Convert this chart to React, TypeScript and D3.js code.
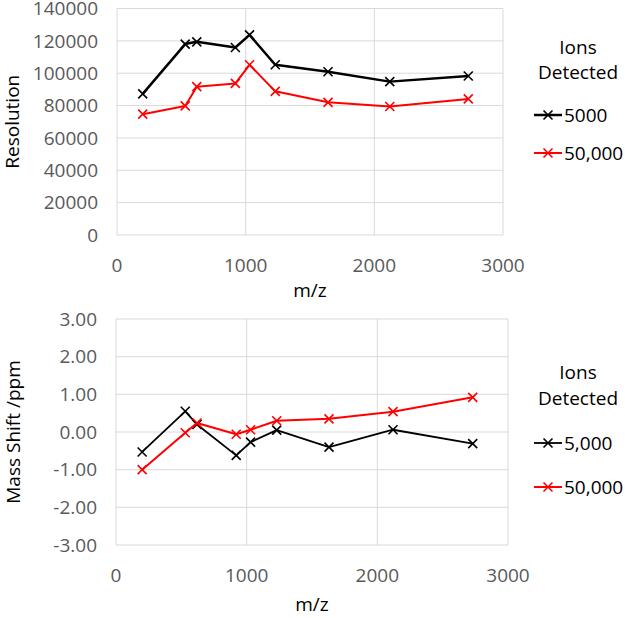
import React from "react";
import * as d3 from "d3";

const mzTop = [200, 530, 620, 920, 1030, 1230, 1640, 2120, 2730];
const res5000 = [87200, 118000, 119400, 115900, 123700, 105200, 100900, 94800, 98300];
const res50000 = [74700, 79800, 91700, 93700, 105200, 88800, 82000, 79400, 84100];

const mzBottom = [200, 530, 620, 920, 1030, 1230, 1630, 2120, 2730];
const shift5000 = [-0.53, 0.55, 0.2, -0.62, -0.27, 0.05, -0.4, 0.06, -0.31];
const shift50000 = [-1.0, -0.02, 0.24, -0.06, 0.06, 0.3, 0.35, 0.54, 0.92];

const xTicks = [0, 1000, 2000, 3000];
const resTicks = [0, 20000, 40000, 60000, 80000, 100000, 120000, 140000];
const shiftTicks = [-3, -2, -1, 0, 1, 2, 3];

const topLegend = ["5000", "50,000"];
const bottomLegend = ["5,000", "50,000"];
const colors = ["#000000", "#ff0000"];

const FONT = "'Open Sans', 'Liberation Sans', sans-serif";
const TICK_COLOR = "#595959";
const GRID = "#d9d9d9";
const FS = 19;

type PanelProps = {
  x: number[];
  series: number[][];
  yTicks: number[];
  yDomain: [number, number];
  yFmt: (v: number) => string;
  left: number;
  right: number;
  top: number;
  bottom: number;
  yTitle: string;
  yTitleX: number;
  xTitleY: number;
  xLabelY: number;
  legend: string[];
  legendY: number[];
  widths: number[];
};

function Cross({ cx, cy, color }: { cx: number; cy: number; color: string }) {
  const s = 4.5;
  return (
    <path
      d={`M${cx - s},${cy - s}L${cx + s},${cy + s}M${cx - s},${cy + s}L${cx + s},${cy - s}`}
      stroke={color}
      strokeWidth={1.6}
      fill="none"
    />
  );
}

function Panel(p: PanelProps) {
  const xs = d3.scaleLinear().domain([0, 3000]).range([p.left, p.right]);
  const ys = d3.scaleLinear().domain(p.yDomain).range([p.bottom, p.top]);
  const line = d3
    .line<[number, number]>()
    .x((d) => xs(d[0]))
    .y((d) => ys(d[1]));
  const midY = (p.top + p.bottom) / 2;
  return (
    <g fontFamily={FONT}>
      {p.yTicks.map((t) => (
        <line key={"gy" + t} x1={p.left} x2={p.right} y1={ys(t)} y2={ys(t)} stroke={GRID} strokeWidth={1} />
      ))}
      {xTicks.map((t) => (
        <line key={"gx" + t} x1={xs(t)} x2={xs(t)} y1={p.top} y2={p.bottom} stroke={GRID} strokeWidth={1} />
      ))}
      {p.yTicks.map((t) => (
        <text key={"ty" + t} x={p.left - 19} y={ys(t)} dy="0.35em" textAnchor="end" fontSize={FS} fill={TICK_COLOR}>
          {p.yFmt(t)}
        </text>
      ))}
      {xTicks.map((t) => (
        <text key={"tx" + t} x={xs(t)} y={p.xLabelY} dy="0.35em" textAnchor="middle" fontSize={FS} fill={TICK_COLOR}>
          {t}
        </text>
      ))}
      <text
        transform={`translate(${p.yTitleX},${midY}) rotate(-90)`}
        textAnchor="middle"
        dy="0.35em"
        fontSize={FS}
        fill="#000"
      >
        {p.yTitle}
      </text>
      <text x={(p.left + p.right) / 2} y={p.xTitleY} dy="0.35em" textAnchor="middle" fontSize={FS} fill="#000">
        m/z
      </text>
      {p.series.map((s, i) => {
        const pts = p.x.map((xv, j) => [xv, s[j]] as [number, number]);
        return (
          <g key={"s" + i}>
            <path d={line(pts) || ""} stroke={colors[i]} strokeWidth={p.widths[i]} fill="none" strokeLinejoin="round" />
            {pts.map((d, j) => (
              <Cross key={j} cx={xs(d[0])} cy={ys(d[1])} color={colors[i]} />
            ))}
          </g>
        );
      })}
      <text x={578} y={p.legendY[0]} dy="0.35em" textAnchor="middle" fontSize={FS} fill="#000">
        Ions
      </text>
      <text x={578} y={p.legendY[1]} dy="0.35em" textAnchor="middle" fontSize={FS} fill="#000">
        Detected
      </text>
      {p.legend.map((l, i) => {
        const y = p.legendY[2 + i];
        return (
          <g key={"l" + i}>
            <line x1={534} x2={562} y1={y} y2={y} stroke={colors[i]} strokeWidth={p.widths[i]} />
            <Cross cx={548} cy={y} color={colors[i]} />
            <text x={564} y={y} dy="0.35em" fontSize={FS} fill="#000">
              {l}
            </text>
          </g>
        );
      })}
    </g>
  );
}

export default function App() {
  return (
    <svg width={625} height={618} style={{ position: "absolute", left: 0, top: 0, background: "#fff" }}>
      <rect width={625} height={618} fill="#fff" />
      <Panel
        x={mzTop}
        series={[res5000, res50000]}
        yTicks={resTicks}
        yDomain={[0, 140000]}
        yFmt={(v) => String(v)}
        left={117}
        right={503}
        top={8.5}
        bottom={235}
        yTitle="Resolution"
        yTitleX={12}
        xTitleY={290}
        xLabelY={265}
        legend={topLegend}
        legendY={[47, 72, 115, 153]}
        widths={[2.5, 2]}
      />
      <Panel
        x={mzBottom}
        series={[shift5000, shift50000]}
        yTicks={shiftTicks}
        yDomain={[-3, 3]}
        yFmt={(v) => v.toFixed(2)}
        left={116}
        right={508}
        top={319}
        bottom={545}
        yTitle="Mass Shift /ppm"
        yTitleX={13}
        xTitleY={604}
        xLabelY={575}
        legend={bottomLegend}
        legendY={[372, 398, 443, 487]}
        widths={[1.8, 2]}
      />
    </svg>
  );
}
